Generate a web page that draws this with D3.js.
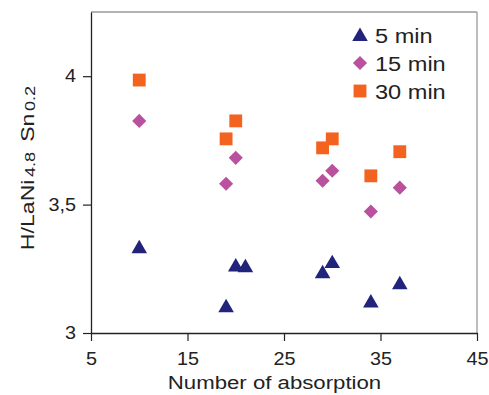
<!DOCTYPE html>
<html><head><meta charset="utf-8">
<script src="https://cdn.jsdelivr.net/npm/d3@7"></script>
<style>body{margin:0;background:#fff;} text{font-family:"Liberation Sans",Arial,sans-serif;fill:#222;}</style>
</head><body><svg id="c" width="489" height="395"></svg>
<script>
const cycles5 = [10, 19, 20, 21, 29, 30, 34, 37];
const values5 = [3.334, 3.104, 3.263, 3.26, 3.237, 3.276, 3.123, 3.194];
const cycles15 = [10, 19, 20, 29, 30, 34, 37];
const values15 = [3.826, 3.581, 3.682, 3.593, 3.632, 3.473, 3.566];
const cycles30 = [10, 19, 20, 29, 30, 34, 37];
const values30 = [3.985, 3.756, 3.826, 3.721, 3.756, 3.612, 3.706];
const seriesNames = ["5 min", "15 min", "30 min"];
const xTicks = [5, 15, 25, 35, 45];
const yTicks = [3, 3.5, 4];
const yTickLabels = ["3", "3,5", "4"];

const svg = d3.select("#c");
const L = 91, R = 477, T = 12, B = 333;
const x = d3.scaleLinear().domain([5, 45]).range([L, R]);
const y = d3.scaleLinear().domain([3, 4.25]).range([B, T]);

svg.append("line").attr("x1", L).attr("x2", R).attr("y1", T).attr("y2", T).attr("stroke", "#9a9a9a").attr("stroke-width", 1.3);
svg.append("line").attr("x1", R).attr("x2", R).attr("y1", T).attr("y2", B).attr("stroke", "#9a9a9a").attr("stroke-width", 1.3);

const xAxis = svg.append("g").attr("transform", `translate(0,${B})`)
  .call(d3.axisBottom(x).tickValues(xTicks).tickFormat(d3.format("d")).tickSize(8).tickSizeOuter(0));
const yAxis = svg.append("g").attr("transform", `translate(${L},0)`)
  .call(d3.axisLeft(y).tickValues(yTicks).tickFormat((d, i) => yTickLabels[i]).tickSize(8).tickSizeOuter(0));
[xAxis, yAxis].forEach(g => {
  g.select(".domain").attr("stroke", "#222").attr("stroke-width", 1.3);
  g.selectAll(".tick line").attr("stroke", "#222").attr("stroke-width", 1.2);
  g.selectAll("text").style("font-size", "18px").attr("fill", "#222");
});
xAxis.selectAll("text").attr("dy", "0.71em").attr("y", 19);
yAxis.selectAll("text").attr("x", -15);
function stretch(sel, k) {
  sel.each(function () {
    const w = this.getComputedTextLength();
    d3.select(this).attr("textLength", w * k).attr("lengthAdjust", "spacingAndGlyphs");
  });
}
stretch(xAxis.selectAll("text"), 1.1);
stretch(yAxis.selectAll("text"), 1.1);

svg.append("text").attr("transform", "translate(274.5,389) scale(1.2,1)").attr("text-anchor", "middle")
  .style("font-size", "18.5px").text("Number of absorption");

const yt = svg.append("text").attr("transform", "translate(34,168) rotate(-90) scale(1.25,1)").attr("text-anchor", "middle")
  .style("font-size", "18.5px");
yt.append("tspan").text("H/LaNi");
yt.append("tspan").style("font-size", "14.5px").attr("dx", 2).attr("dy", 1).text("4.8");
yt.append("tspan").attr("dx", 8).attr("dy", -1).text("Sn");
yt.append("tspan").style("font-size", "14.5px").attr("dx", 2).attr("dy", 1).text("0.2");

const colors = ["#22237a", "#b9519f", "#f3631f"];
const symbols = [d3.symbolTriangle, d3.symbolSquare, d3.symbolSquare];
const sizes = [105, 100, 165];
const rot = [0, 45, 0];
const offY = [1.5, 0, 0];
const data = [
  cycles5.map((c, i) => [c, values5[i]]),
  cycles15.map((c, i) => [c, values15[i]]),
  cycles30.map((c, i) => [c, values30[i]])
];
const sym = (k) => d3.symbol().type(symbols[k]).size(sizes[k])();
data.forEach((pts, k) => {
  svg.append("g").selectAll("path").data(pts).join("path")
    .attr("d", sym(k))
    .attr("transform", d => `translate(${x(d[0])},${y(d[1]) + offY[k]}) rotate(${rot[k]})`)
    .attr("fill", colors[k]);
});

const lg = svg.append("g");
seriesNames.forEach((n, k) => {
  const cy = 35 + k * 28;
  lg.append("path").attr("d", sym(k)).attr("transform", `translate(360,${cy + offY[k]}) rotate(${rot[k]})`).attr("fill", colors[k]);
  lg.append("text").attr("transform", `translate(375,${cy + 7.5}) scale(1.15,1)`).style("font-size", "20.5px").text(n);
});
</script></body></html>
